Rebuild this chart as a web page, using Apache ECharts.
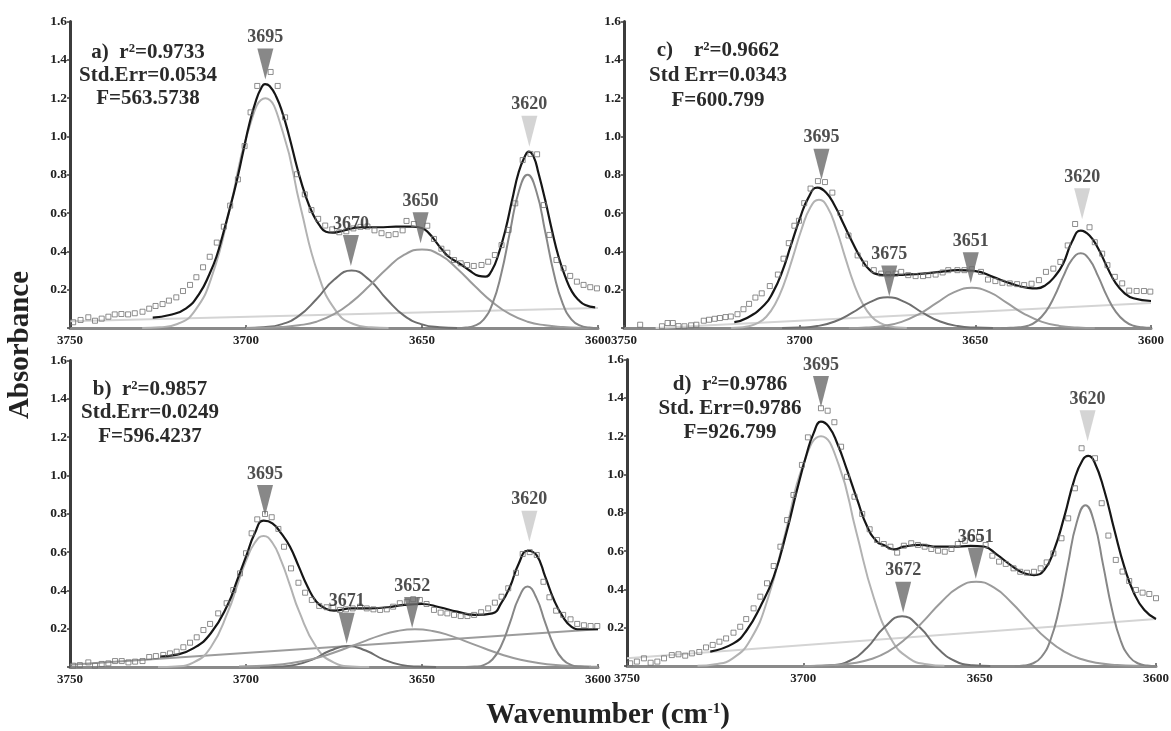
<!DOCTYPE html>
<html>
<head>
<meta charset="utf-8">
<script src="https://cdn.jsdelivr.net/npm/echarts@6/dist/echarts.min.js"></script>
<style>
  html, body { margin: 0; padding: 0; background: #fff; }
  #main { width: 1171px; height: 731px; }
</style>
</head>
<body>
<div id="main"></div>
<script>
// ---------- panel a ----------
var aBase = [[3750, 0.035], [3600, 0.105]];
var a3695 = [[3729.5,0],[3724.5,0.004],[3719.5,0.021],[3714.5,0.091],[3709.5,0.281],[3704.5,0.630],[3699.5,1.021],[3694.5,1.20],[3689.5,1.021],[3684.5,0.630],[3679.5,0.281],[3674.5,0.091],[3669.5,0.021],[3664.5,0.004],[3659.5,0]];
var a3670 = [[3700,0],[3695,0.004],[3690,0.019],[3685,0.063],[3680,0.150],[3675,0.252],[3670,0.30],[3665,0.252],[3660,0.150],[3655,0.063],[3650,0.019],[3645,0.004],[3640,0]];
var a3650 = [[3700,0],[3695,0.001],[3690,0.005],[3685,0.014],[3680,0.033],[3675,0.072],[3670,0.135],[3665,0.219],[3660,0.310],[3655,0.383],[3650,0.41],[3645,0.383],[3640,0.310],[3635,0.219],[3630,0.135],[3625,0.072],[3620,0.033],[3615,0.014],[3610,0.005],[3605,0.001],[3600,0]];
var a3620 = [[3640,0],[3637.5,0.003],[3635,0.012],[3632.5,0.044],[3630,0.126],[3627.5,0.282],[3625,0.503],[3622.5,0.713],[3620,0.80],[3617.5,0.713],[3615,0.503],[3612.5,0.282],[3610,0.126],[3607.5,0.044],[3605,0.012],[3602.5,0.003],[3600,0]];
var aFit = [[3726.5,0.054],[3721.7,0.068],[3717.0,0.103],[3713.2,0.181],[3710.3,0.285],[3708.4,0.372],[3706.6,0.486],[3704.7,0.616],[3702.8,0.755],[3700.9,0.912],[3699.0,1.069],[3697.1,1.191],[3695.7,1.252],[3694.6,1.274],[3693.3,1.264],[3691.4,1.208],[3689.6,1.121],[3687.7,0.999],[3685.3,0.825],[3683.0,0.686],[3681.1,0.599],[3679.2,0.538],[3677.3,0.503],[3675.4,0.498],[3673.5,0.503],[3671.6,0.512],[3669.7,0.521],[3666.9,0.526],[3662.2,0.526],[3657.4,0.529],[3652.7,0.529],[3649.9,0.521],[3648.0,0.494],[3646.1,0.451],[3644.2,0.407],[3642.4,0.372],[3639.5,0.338],[3636.7,0.303],[3633.9,0.272],[3632.0,0.268],[3630.1,0.303],[3628.2,0.390],[3626.3,0.512],[3624.4,0.668],[3622.5,0.816],[3620.6,0.903],[3619.7,0.921],[3618.3,0.895],[3616.9,0.808],[3615.0,0.668],[3613.1,0.512],[3611.2,0.372],[3609.3,0.268],[3607.4,0.190],[3605.5,0.146],[3603.6,0.120],[3600.8,0.108]];
var aPts = [[3749.1,0.030],[3747.0,0.042],[3744.8,0.056],[3742.9,0.038],[3741.0,0.049],[3739.1,0.059],[3737.3,0.071],[3735.4,0.073],[3733.5,0.071],[3731.6,0.077],[3729.4,0.085],[3727.5,0.101],[3725.7,0.115],[3723.7,0.125],[3721.9,0.143],[3719.8,0.160],[3717.9,0.193],[3715.9,0.225],[3714.1,0.265],[3712.2,0.317],[3710.3,0.372],[3708.3,0.446],[3706.3,0.529],[3704.5,0.639],[3702.3,0.776],[3700.4,0.950],[3698.7,1.126],[3696.8,1.264],[3693.0,1.337],[3691.0,1.264],[3688.9,1.100],[3685.5,0.803],[3683.3,0.698],[3681.4,0.616],[3679.5,0.570],[3677.5,0.535],[3675.5,0.515],[3673.5,0.500],[3671.5,0.505],[3669.5,0.520],[3667.5,0.528],[3665.5,0.530],[3663.5,0.510],[3661.5,0.495],[3659.5,0.485],[3657.5,0.490],[3655.5,0.510],[3654.4,0.559],[3652.3,0.543],[3648.5,0.534],[3646.6,0.465],[3644.5,0.414],[3642.8,0.393],[3640.9,0.355],[3639.0,0.338],[3637.2,0.329],[3635.3,0.324],[3633.1,0.329],[3631.2,0.346],[3629.3,0.381],[3627.4,0.433],[3625.4,0.512],[3623.5,0.651],[3621.4,0.877],[3619.2,0.909],[3617.3,0.907],[3615.4,0.642],[3613.8,0.486],[3611.8,0.355],[3609.8,0.312],[3607.9,0.272],[3606.0,0.242],[3604.1,0.225],[3602.2,0.213],[3600.3,0.207]];
var aMarks = [[3694.5,1.379,'3695'],[3670.2,0.405,'3670'],[3650.4,0.524,'3650'],[3619.5,1.027,'3620']];
var aStats = ['a)  r²=0.9733', 'Std.Err=0.0534', 'F=563.5738'];

// ---------- panel b ----------
var bBase = [[3750, 0.012], [3600, 0.197]];
var b3695 = [[3725,0],[3720,0.003],[3715,0.023],[3710,0.103],[3705,0.294],[3702.5,0.426],[3700,0.554],[3697.5,0.649],[3695,0.684],[3692.5,0.649],[3690,0.554],[3687.5,0.426],[3685,0.294],[3680,0.103],[3675,0.023],[3670,0.003],[3665,0]];
var b3671 = [[3696,0],[3691,0.002],[3686,0.011],[3681,0.040],[3676,0.086],[3671,0.11],[3666,0.086],[3661,0.040],[3656,0.011],[3651,0.002],[3646,0]];
var b3652 = [[3702,0.002],[3697,0.005],[3692,0.010],[3687,0.021],[3682,0.038],[3677,0.063],[3672,0.095],[3667,0.130],[3662,0.164],[3657,0.188],[3652,0.197],[3647,0.188],[3642,0.164],[3637,0.130],[3632,0.095],[3627,0.063],[3622,0.038],[3617,0.021],[3612,0.010],[3607,0.005],[3602,0.002],[3600,0.001]];
var b3620 = [[3637.5,0],[3635,0.002],[3632.5,0.010],[3630,0.039],[3627.5,0.111],[3625,0.232],[3622.5,0.361],[3620,0.42],[3617.5,0.361],[3615,0.232],[3612.5,0.111],[3610,0.039],[3607.5,0.010],[3605,0.002],[3602.5,0]];
var bFit = [[3724.4,0.054],[3720,0.063],[3715,0.097],[3710,0.176],[3705,0.333],[3702.5,0.454],[3700,0.576],[3697.5,0.698],[3695,0.764],[3692.5,0.750],[3690,0.698],[3687.5,0.628],[3685,0.524],[3682.5,0.419],[3680,0.341],[3677.5,0.306],[3675,0.294],[3670,0.306],[3665,0.306],[3660,0.312],[3655,0.324],[3650,0.329],[3645,0.312],[3640,0.289],[3635,0.272],[3630,0.280],[3627.5,0.333],[3625,0.419],[3622.5,0.541],[3620,0.607],[3617.5,0.585],[3615,0.472],[3612.5,0.350],[3610,0.263],[3607.5,0.210],[3605,0.197],[3600,0.197]];
var bPts = [[3749.1,0.007],[3747.2,0.010],[3744.8,0.024],[3742.9,0.007],[3741.0,0.016],[3739.1,0.019],[3737.2,0.031],[3735.3,0.031],[3733.4,0.024],[3731.5,0.028],[3729.4,0.031],[3727.5,0.052],[3725.6,0.057],[3723.5,0.063],[3721.6,0.071],[3719.7,0.080],[3717.8,0.103],[3715.9,0.127],[3714.0,0.155],[3712.1,0.193],[3710.2,0.225],[3707.9,0.280],[3705.5,0.333],[3703.6,0.402],[3701.7,0.489],[3700.0,0.594],[3698.4,0.698],[3696.8,0.771],[3694.6,0.799],[3692.7,0.782],[3690.8,0.721],[3689.2,0.628],[3687.2,0.515],[3685.1,0.440],[3683.2,0.388],[3681.3,0.350],[3679.2,0.319],[3677.1,0.312],[3675.2,0.312],[3673.3,0.298],[3671.6,0.301],[3669.7,0.306],[3667.6,0.315],[3665.7,0.306],[3663.8,0.301],[3661.9,0.298],[3660.0,0.301],[3658.2,0.315],[3656.3,0.333],[3654.3,0.341],[3652.5,0.354],[3650.6,0.350],[3648.7,0.329],[3646.6,0.298],[3644.7,0.284],[3642.8,0.280],[3640.9,0.272],[3639.0,0.266],[3637.1,0.266],[3635.2,0.272],[3633.2,0.286],[3631.2,0.306],[3629.3,0.336],[3627.4,0.367],[3625.5,0.411],[3623.3,0.492],[3621.4,0.590],[3619.4,0.600],[3617.4,0.585],[3615.5,0.445],[3613.8,0.364],[3611.9,0.294],[3609.9,0.272],[3607.8,0.249],[3605.9,0.225],[3604.0,0.218],[3602.1,0.214],[3600.2,0.214]];
var bMarks = [[3694.6,0.869,'3695'],[3671.4,0.202,'3671'],[3652.8,0.285,'3652'],[3619.5,0.735,'3620']];
var bStats = ['b)  r²=0.9857', 'Std.Err=0.0249', 'F=596.4237'];

// ---------- panel c ----------
var cBase = [[3741, 0], [3600, 0.13]];
var c3695 = [[3719.5,0],[3717,0.003],[3714.5,0.009],[3712,0.025],[3709.5,0.059],[3707,0.124],[3704.5,0.228],[3702,0.366],[3699.5,0.513],[3697,0.628],[3694.5,0.67],[3692,0.628],[3689.5,0.513],[3687,0.366],[3684.5,0.228],[3682,0.124],[3679.5,0.059],[3677,0.025],[3674.5,0.009],[3672,0.003],[3669.5,0]];
var c3675 = [[3705,0],[3700,0.002],[3695,0.010],[3690,0.034],[3685,0.080],[3680,0.135],[3675,0.16],[3670,0.135],[3665,0.080],[3660,0.034],[3655,0.010],[3650,0.002],[3645,0]];
var c3651 = [[3686,0],[3681,0.003],[3676,0.011],[3671,0.032],[3666,0.073],[3661,0.131],[3656,0.187],[3651,0.21],[3646,0.187],[3641,0.131],[3636,0.073],[3631,0.032],[3626,0.011],[3621,0.003],[3616,0]];
var c3620 = [[3642.5,0],[3640,0.001],[3637.5,0.004],[3635,0.012],[3632.5,0.036],[3630,0.084],[3627.5,0.165],[3625,0.268],[3622.5,0.357],[3620,0.39],[3617.5,0.357],[3615,0.268],[3612.5,0.165],[3610,0.084],[3607.5,0.036],[3605,0.012],[3602.5,0.004],[3600,0.001]];
var cFit = [[3718.6,0.031],[3715,0.052],[3710,0.121],[3707.5,0.19],[3705,0.293],[3702.5,0.431],[3700,0.569],[3697.5,0.681],[3695,0.733],[3692.5,0.707],[3690,0.638],[3687.5,0.543],[3685,0.448],[3682.5,0.362],[3680,0.302],[3677.5,0.279],[3675,0.276],[3670,0.279],[3665,0.284],[3660,0.293],[3655,0.302],[3650,0.297],[3645,0.267],[3640,0.233],[3635,0.210],[3632.5,0.207],[3630,0.224],[3627.5,0.267],[3625,0.336],[3622.5,0.45],[3620,0.509],[3617.5,0.483],[3615,0.414],[3612.5,0.319],[3610,0.233],[3607.5,0.181],[3605,0.155],[3600,0.141]];
var cPts = [[3745.4,0.017],[3739.2,0.009],[3737.6,0.026],[3736.1,0.026],[3734.5,0.010],[3732.8,0.009],[3730.9,0.014],[3729.4,0.017],[3727.3,0.038],[3725.8,0.043],[3724.2,0.048],[3722.7,0.052],[3721.1,0.057],[3719.6,0.060],[3717.7,0.072],[3716.0,0.098],[3714.4,0.126],[3712.6,0.159],[3710.8,0.181],[3708.5,0.219],[3706.2,0.279],[3704.6,0.362],[3703.1,0.443],[3701.5,0.534],[3700.2,0.560],[3698.7,0.652],[3696.9,0.728],[3694.8,0.767],[3692.8,0.762],[3690.7,0.707],[3688.4,0.600],[3686.1,0.483],[3683.5,0.379],[3681.4,0.336],[3678.9,0.302],[3676.8,0.284],[3674.8,0.280],[3672.7,0.284],[3671.1,0.293],[3669.1,0.276],[3667.0,0.271],[3664.9,0.271],[3663.4,0.276],[3661.3,0.279],[3659.3,0.290],[3657.7,0.302],[3655.1,0.302],[3653.1,0.302],[3651.0,0.307],[3648.4,0.293],[3646.4,0.253],[3644.3,0.245],[3642.3,0.236],[3640.2,0.233],[3638.1,0.229],[3636.1,0.224],[3634.0,0.231],[3631.9,0.250],[3629.9,0.293],[3627.8,0.310],[3625.8,0.345],[3623.7,0.431],[3621.6,0.543],[3617.5,0.526],[3616.0,0.448],[3613.9,0.388],[3612.4,0.328],[3610.3,0.267],[3608.2,0.233],[3606.2,0.195],[3604.1,0.193],[3602.0,0.193],[3600.2,0.190]];
var cMarks = [[3693.8,0.855,'3695'],[3674.5,0.245,'3675'],[3651.3,0.315,'3651'],[3619.6,0.649,'3620']];
var cStats = ['c)    r²=0.9662', 'Std Err=0.0343', 'F=600.799'];

// ---------- panel d ----------
var dBase = [[3750, 0.04], [3600, 0.245]];
var d3695 = [[3730,0.001],[3725,0.009],[3720,0.040],[3715,0.137],[3710,0.355],[3705,0.701],[3700,1.053],[3695,1.20],[3690,1.053],[3685,0.701],[3680,0.355],[3675,0.137],[3670,0.040],[3665,0.009],[3660,0.001]];
var d3672 = [[3697,0],[3692,0.004],[3687,0.026],[3682,0.094],[3677,0.202],[3672,0.26],[3667,0.202],[3662,0.094],[3657,0.026],[3652,0.004],[3647,0]];
var d3651 = [[3700,0],[3696,0.001],[3691,0.005],[3686,0.014],[3681,0.035],[3676,0.075],[3671,0.142],[3666,0.233],[3661,0.332],[3656,0.410],[3651,0.44],[3646,0.410],[3641,0.332],[3636,0.233],[3631,0.142],[3626,0.075],[3621,0.035],[3616,0.014],[3611,0.005],[3606,0.001],[3600,0]];
var d3620 = [[3640,0],[3637.5,0.003],[3635,0.013],[3632.5,0.047],[3630,0.132],[3627.5,0.297],[3625,0.528],[3622.5,0.748],[3620,0.84],[3617.5,0.748],[3615,0.528],[3612.5,0.297],[3610,0.132],[3607.5,0.047],[3605,0.013],[3602.5,0.003],[3600,0]];
var dFit = [[3726.4,0.075],[3719.8,0.118],[3716.0,0.188],[3712.2,0.310],[3708.4,0.466],[3704.6,0.710],[3701.8,0.919],[3699.0,1.111],[3697.1,1.215],[3695.0,1.276],[3692.8,1.250],[3690.4,1.163],[3687.6,1.023],[3684.7,0.867],[3681.9,0.728],[3679.1,0.649],[3677.2,0.632],[3674.3,0.609],[3671.5,0.623],[3666.8,0.632],[3662.0,0.623],[3657.3,0.623],[3652.6,0.627],[3648.8,0.623],[3645.0,0.580],[3641.2,0.527],[3637.4,0.484],[3634.6,0.475],[3631.7,0.501],[3628.9,0.606],[3626.0,0.780],[3623.2,0.971],[3620.8,1.076],[3619.2,1.097],[3617.5,1.067],[3614.7,0.919],[3611.8,0.710],[3609.0,0.519],[3606.2,0.379],[3603.3,0.292],[3600,0.245]];
var dPts = [[3749.1,0.014],[3747.2,0.023],[3745.2,0.040],[3743.3,0.017],[3741.4,0.023],[3739.5,0.040],[3737.3,0.057],[3735.4,0.061],[3733.5,0.054],[3731.6,0.066],[3729.5,0.073],[3727.6,0.097],[3725.7,0.110],[3723.8,0.127],[3721.9,0.144],[3719.8,0.174],[3717.9,0.205],[3716.2,0.245],[3714.1,0.301],[3712.2,0.362],[3710.3,0.432],[3708.4,0.522],[3706.5,0.623],[3704.6,0.762],[3702.8,0.893],[3700.4,1.050],[3698.7,1.194],[3695.0,1.346],[3693.1,1.333],[3691.2,1.273],[3689.3,1.145],[3687.6,0.988],[3685.5,0.884],[3683.3,0.794],[3681.2,0.714],[3679.1,0.658],[3677.2,0.637],[3675.3,0.623],[3673.4,0.592],[3671.5,0.628],[3669.4,0.641],[3667.5,0.632],[3665.6,0.623],[3663.7,0.611],[3661.8,0.602],[3659.9,0.597],[3658.0,0.611],[3656.2,0.637],[3654.2,0.654],[3652.3,0.670],[3650.2,0.675],[3648.3,0.632],[3646.4,0.576],[3644.5,0.545],[3642.6,0.533],[3640.4,0.510],[3638.5,0.492],[3636.6,0.487],[3634.6,0.492],[3632.7,0.510],[3631.0,0.541],[3629.1,0.588],[3626.8,0.667],[3624.9,0.771],[3623.0,0.928],[3621.1,1.137],[3617.3,1.085],[3615.4,0.850],[3613.5,0.681],[3611.4,0.554],[3609.5,0.493],[3607.6,0.444],[3605.7,0.397],[3603.8,0.383],[3601.9,0.376],[3600.0,0.354]];
var dMarks = [[3695,1.433,'3695'],[3671.7,0.359,'3672'],[3651.1,0.536,'3651'],[3619.4,1.254,'3620']];
var dStats = ['d)  r²=0.9786', 'Std. Err=0.9786', 'F=926.799'];

// ---------- layout ----------
var SERIF = '"Liberation Serif", "Times New Roman", serif';
var panels = [
  { fit: aFit, comps: [a3695, a3670, a3650, a3620], base: aBase, baseColor: '#d4d4d4', pts: aPts, marks: aMarks, stats: aStats,
    grid: { left: 70, top: 21.6, width: 528, height: 306.4 }, statPos: [148, 41.5], statLH: 23 },
  { fit: bFit, comps: [b3695, b3671, b3652, b3620], base: bBase, baseColor: '#9c9c9c', pts: bPts, marks: bMarks, stats: bStats,
    grid: { left: 70, top: 360.6, width: 528, height: 306.4 }, statPos: [150, 377.5], statLH: 23.5 },
  { fit: cFit, comps: [c3695, c3675, c3651, c3620], base: cBase, baseColor: '#d4d4d4', pts: cPts, marks: cMarks, stats: cStats,
    grid: { left: 624, top: 21.6, width: 527, height: 306.4 }, statPos: [718, 38], statLH: 25 },
  { fit: dFit, comps: [d3695, d3672, d3651, d3620], base: dBase, baseColor: '#d4d4d4', pts: dPts, marks: dMarks, stats: dStats,
    grid: { left: 627, top: 359.6, width: 529, height: 306.4 }, statPos: [730, 372.5], statLH: 24 }
];
var compColors = ['#b2b2b2', '#6e6e6e', '#9b9b9b', '#878787'];

var grids = [], xAxes = [], yAxes = [], series = [], graphics = [];

panels.forEach(function (p, i) {
  grids.push(Object.assign({ containLabel: false, outerBoundsMode: 'none' }, p.grid));
  xAxes.push({
    gridIndex: i, type: 'value', min: 3600, max: 3750, interval: 50, inverse: true,
    axisLine: { show: true, onZero: false, lineStyle: { color: '#8a8a8a', width: 3 } },
    axisTick: { show: true, inside: true, length: 3, lineStyle: { color: '#555', width: 1.5 } },
    splitLine: { show: false },
    axisLabel: {
      color: '#222', fontFamily: SERIF, fontWeight: 'bold', fontSize: 13, margin: 6,
      formatter: function (v) { return String(v); }
    }
  });
  yAxes.push({
    gridIndex: i, type: 'value', min: 0, max: 1.6, interval: 0.2,
    axisLine: { show: true, onZero: false, lineStyle: { color: '#3c3c3c', width: 3 } },
    axisTick: { show: true, length: 3, lineStyle: { color: '#3c3c3c', width: 1.5 } },
    splitLine: { show: false },
    axisLabel: {
      color: '#222', fontFamily: SERIF, fontWeight: 'bold', fontSize: 13.5, margin: 3,
      formatter: function (v) { return v === 0 ? '' : v.toFixed(1); }
    }
  });

  function line(data, color, width, z) {
    series.push({
      type: 'line', xAxisIndex: i, yAxisIndex: i, data: data, smooth: true,
      showSymbol: false, symbol: 'none', z: z, silent: true,
      lineStyle: { color: color, width: width }
    });
  }
  line(p.base, p.baseColor, 2, 2);
  p.comps.forEach(function (c, k) { line(c, compColors[k], 2, 3); });
  line(p.fit, '#161616', 2.2, 5);

  series.push({
    type: 'scatter', xAxisIndex: i, yAxisIndex: i, data: p.pts, z: 6, silent: true,
    symbol: 'rect', symbolSize: 5,
    itemStyle: { color: 'rgba(255,255,255,0)', borderColor: '#707070', borderWidth: 1 }
  });

  series.push({
    type: 'scatter', xAxisIndex: i, yAxisIndex: i, z: 8, silent: true,
    symbol: 'triangle', symbolRotate: 180, symbolSize: [16, 31],
    data: p.marks.map(function (m) {
      return { value: [m[0], m[1]], name: m[2],
        itemStyle: { color: m[2] === '3620' ? '#c9c9c9' : '#6a6a6a' } };
    }),
    label: {
      show: true, position: 'top', distance: 2, formatter: '{b}',
      color: '#222', fontFamily: SERIF, fontWeight: 'bold', fontSize: 18
    }
  });

  graphics.push({
    type: 'text', x: p.statPos[0], y: p.statPos[1], silent: true,
    style: {
      text: p.stats.join('\n'), fill: '#2a2a2a',
      font: 'bold 21px ' + SERIF, lineHeight: p.statLH,
      align: 'center', verticalAlign: 'top', textAlign: 'center', textVerticalAlign: 'top'
    }
  });
});

graphics.push({
  type: 'text', x: 21, y: 345, rotation: Math.PI / 2, silent: true,
  style: {
    text: 'Absorbance', fill: '#222', font: 'bold 29px ' + SERIF,
    align: 'center', verticalAlign: 'middle', textAlign: 'center', textVerticalAlign: 'middle'
  }
});
graphics.push({
  type: 'text', x: 608, y: 716, silent: true,
  style: {
    text: '{a|Wavenumber (cm}{s|-1}{a|)}',
    align: 'center', verticalAlign: 'middle', textAlign: 'center', textVerticalAlign: 'middle',
    rich: {
      a: { font: 'bold 29px ' + SERIF, fill: '#222', color: '#222' },
      s: { font: 'bold 15px ' + SERIF, fill: '#222', color: '#222', verticalAlign: 'top' }
    }
  }
});

var chart = echarts.init(document.getElementById('main'));
chart.setOption({
  animation: false,
  backgroundColor: '#fff',
  grid: grids,
  xAxis: xAxes,
  yAxis: yAxes,
  series: series,
  graphic: graphics
});
</script>
</body>
</html>
